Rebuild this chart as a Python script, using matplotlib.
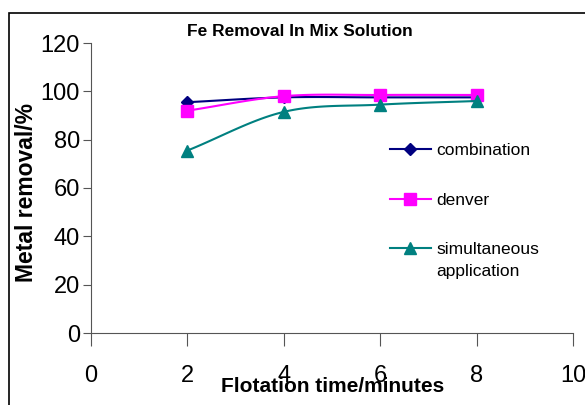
import numpy as np
import matplotlib
matplotlib.use("Agg")
import matplotlib.pyplot as plt
from matplotlib.lines import Line2D
from matplotlib.patches import Rectangle

plt.rcParams['font.family'] = ['Liberation Sans', 'DejaVu Sans']

time = [2, 4, 6, 8]
combination = [95.5, 97.5, 97.5, 97.5]
denver = [92.0, 98.0, 98.5, 98.5]
simultaneous = [75.5, 91.5, 94.5, 96.0]
series_names = ["combination", "denver", "simultaneous\napplication"]
colors = ["#000080", "#FF00FF", "#008080"]
markers = ["D", "s", "^"]
msizes = [6, 8, 8]
xticks = [0, 2, 4, 6, 8, 10]
yticks = [0, 20, 40, 60, 80, 100, 120]


def smooth(x, y, n=30):
    x = np.asarray(x, float)
    y = np.asarray(y, float)
    px = np.concatenate([[2 * x[0] - x[1]], x, [2 * x[-1] - x[-2]]])
    py = np.concatenate([[2 * y[0] - y[1]], y, [2 * y[-1] - y[-2]]])
    xs, ys = [], []
    t = np.linspace(0, 1, n)
    for i in range(1, len(px) - 2):
        for p, out in ((px, xs), (py, ys)):
            p0, p1, p2, p3 = p[i - 1], p[i], p[i + 1], p[i + 2]
            out.append(0.5 * ((2 * p1) + (-p0 + p2) * t
                              + (2 * p0 - 5 * p1 + 4 * p2 - p3) * t ** 2
                              + (-p0 + 3 * p1 - 3 * p2 + p3) * t ** 3))
    return np.concatenate(xs), np.concatenate(ys)


W, H = 585, 405
fig = plt.figure(figsize=(W / 100, H / 100), dpi=100)
fig.patches.append(Rectangle((9 / W, -0.1), 1.2, 1 - 13 / H + 0.1,
                             transform=fig.transFigure, fill=False,
                             edgecolor='black', linewidth=1.2))
ax = fig.add_axes([91 / W, 1 - 333 / H, (573 - 91) / W, (333 - 43) / H])

for vals, c, m, ms in zip([combination, denver, simultaneous], colors, markers, msizes):
    sx, sy = smooth(time, vals)
    ax.plot(sx, sy, color=c, lw=1.5)
    ax.plot(time, vals, linestyle='none', marker=m, color=c, markersize=ms)

ax.set_xlim(0, 10)
ax.set_ylim(0, 120)
ax.set_xticks(xticks)
ax.set_yticks(yticks)
ax.spines['top'].set_visible(False)
ax.spines['right'].set_visible(False)
ax.spines['left'].set_color('#555555')
ax.spines['bottom'].set_color('#555555')
ax.tick_params(axis='x', direction='out', length=9, pad=14, labelsize=17, color='#555555')
ax.tick_params(axis='y', direction='out', length=6, pad=2, labelsize=17, color='#555555')

fig.text(300 / W, 1 - 32 / H, "Fe Removal In Mix Solution", ha='center', va='center',
         fontsize=12.5, fontweight='bold')
fig.text(333 / W, 1 - 386 / H, "Flotation time/minutes", ha='center', va='center',
         fontsize=15, fontweight='bold')
fig.text(27 / W, 1 - 192 / H, "Metal removal/%", ha='center', va='center',
         rotation=90, fontsize=16.5, fontweight='bold')

# manual legend
leg_y = [149, 199, 248]
for name, c, m, ms, yy in zip(series_names, colors, markers, msizes, leg_y):
    yf = 1 - yy / H
    fig.add_artist(Line2D([390 / W, 431 / W], [yf, yf], color=c, lw=1.5,
                          transform=fig.transFigure))
    fig.add_artist(Line2D([410.5 / W], [yf], color=c, marker=m, markersize=ms,
                          linestyle='none', transform=fig.transFigure))
    fig.text(436 / W, yf + 6 / H, name, ha='left', va='top', fontsize=12.5,
             linespacing=1.55)

fig.savefig("out.png", dpi=100)
